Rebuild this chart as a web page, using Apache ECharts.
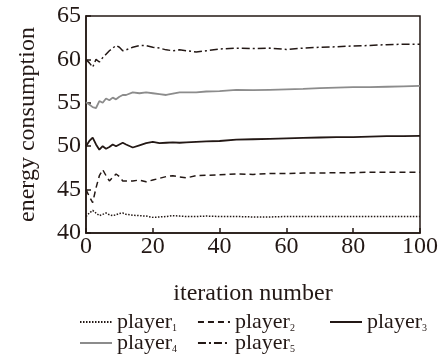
<!DOCTYPE html>
<html>
<head>
<meta charset="utf-8">
<script src="https://cdn.jsdelivr.net/npm/echarts@6/dist/echarts.min.js"></script>
<style>
  html, body { margin: 0; padding: 0; background: #fff; }
  #chart { width: 441px; height: 358px; }
</style>
</head>
<body>
<div id="chart"></div>
<script>
// iteration numbers shared by every player
const iterations = [0, 1, 2, 3, 4, 5, 6, 7, 8, 9, 10, 11, 12, 14, 16, 18, 20, 22, 24, 26, 28, 30,
  33, 36, 40, 45, 50, 55, 60, 65, 70, 75, 80, 85, 90, 95, 100]

const player1 = [41.9, 42.3, 42.6, 42.3, 42.0, 42.15, 42.3, 42.1, 42.0, 42.1, 42.25, 42.3, 42.15, 42.05,
  42.0, 41.95, 41.8, 41.85, 41.9, 42.0, 41.95, 41.9, 41.9, 41.95, 41.9, 41.9, 41.85, 41.85, 41.9, 41.9,
  41.9, 41.9, 41.9, 41.9, 41.9, 41.9, 41.9]
const player2 = [45.0, 44.2, 43.5, 45.2, 46.6, 47.3, 46.6, 46.0, 46.4, 46.8, 46.5, 46.0, 46.0, 46.0,
  46.1, 45.9, 46.1, 46.3, 46.5, 46.6, 46.45, 46.35, 46.6, 46.65, 46.7, 46.8, 46.75, 46.85, 46.85, 46.9,
  46.9, 46.95, 46.95, 47.0, 47.0, 47.0, 47.0]
const player3 = [50.0, 50.6, 51.0, 50.2, 49.6, 50.0, 49.7, 49.9, 50.2, 50.0, 50.2, 50.4, 50.2, 49.85,
  50.1, 50.35, 50.5, 50.35, 50.4, 50.45, 50.4, 50.45, 50.5, 50.55, 50.6, 50.75, 50.8, 50.85, 50.9, 50.95,
  51.0, 51.05, 51.05, 51.1, 51.15, 51.15, 51.2]
const player4 = [55.05, 54.8, 54.5, 54.4, 55.2, 55.0, 55.5, 55.3, 55.6, 55.4, 55.7, 55.9, 55.9, 56.2,
  56.1, 56.2, 56.1, 56.0, 55.9, 56.05, 56.2, 56.2, 56.2, 56.3, 56.35, 56.5, 56.45, 56.5, 56.55, 56.6,
  56.7, 56.75, 56.8, 56.8, 56.85, 56.9, 56.95]
const player5 = [60.0, 59.6, 59.1, 60.0, 59.7, 60.2, 60.6, 61.0, 61.3, 61.6, 61.4, 61.0, 61.1, 61.4,
  61.6, 61.6, 61.4, 61.3, 61.1, 61.0, 61.1, 61.0, 60.85, 61.0, 61.2, 61.3, 61.25, 61.3, 61.15, 61.3,
  61.4, 61.45, 61.55, 61.6, 61.7, 61.75, 61.75]

const playerNames = ['player1', 'player2', 'player3', 'player4', 'player5']
const playerValues = [player1, player2, player3, player4, player5]

const xTicks = [0, 20, 40, 60, 80, 100]
const yTicks = [40, 45, 50, 55, 60, 65]

const ink = '#231815'
const font = 'Liberation Serif'
const lineStyles = [
  { color: ink, width: 1.5, type: [1.5, 1.5] },
  { color: ink, width: 1.5, type: [6, 4] },
  { color: ink, width: 1.8, type: 'solid' },
  { color: '#8c8c8c', width: 1.8, type: 'solid' },
  { color: ink, width: 1.5, type: [8, 3, 2, 3] }
]

const chart = echarts.init(document.getElementById('chart'), null, { renderer: 'canvas' })

const legendText = {
  color: ink,
  fontFamily: font,
  fontSize: 22,
  padding: [0, 0, 0, 0],
  rich: {
    s: { fontFamily: font, fontSize: 10, color: ink, verticalAlign: 'bottom', padding: [10, 0, 0, 0] }
  }
}
const legendFormatter = name => name.replace(/(\d+)$/, '{s|$1}')
// legend rows laid out like a small table
const legendBase = {
  itemWidth: 32, itemHeight: 10, itemGap: 20,
  itemStyle: { opacity: 0 },
  textStyle: legendText, formatter: legendFormatter
}

chart.setOption({
  animation: false,
  backgroundColor: '#fff',
  grid: {
    left: 86, right: 18, top: 16, bottom: 125,
    show: true, borderColor: ink, borderWidth: 1.5
  },
  legend: [
    Object.assign({ data: ['player1', 'player2'], left: 74, top: 306 }, legendBase),
    Object.assign({ data: ['player3'], left: 324, top: 306 }, legendBase),
    Object.assign({ data: ['player4', 'player5'], left: 74, top: 327 }, legendBase)
  ],
  xAxis: {
    type: 'value', min: xTicks[0], max: xTicks[xTicks.length - 1], interval: 20,
    name: 'iteration number', nameLocation: 'middle', nameGap: 49,
    nameTextStyle: { color: ink, fontFamily: font, fontSize: 24 },
    axisLine: { lineStyle: { color: ink, width: 1.5 } },
    axisTick: { inside: true, length: 5, lineStyle: { color: ink, width: 1.5 } },
    axisLabel: { color: ink, fontFamily: font, fontSize: 24, margin: 2 },
    splitLine: { show: false }
  },
  yAxis: {
    type: 'value', min: yTicks[0], max: yTicks[yTicks.length - 1], interval: 5,
    name: 'energy consumption', nameLocation: 'middle', nameGap: 46, nameRotate: 90,
    nameTextStyle: { color: ink, fontFamily: font, fontSize: 24 },
    axisLine: { lineStyle: { color: ink, width: 1.5 } },
    axisTick: { inside: true, length: 5, lineStyle: { color: ink, width: 1.5 } },
    axisLabel: { color: ink, fontFamily: font, fontSize: 24, margin: 5 },
    splitLine: { show: false }
  },
  series: playerNames.map((name, i) => ({
    name,
    type: 'line',
    showSymbol: false,
    symbol: 'none',
    lineStyle: lineStyles[i],
    itemStyle: { color: lineStyles[i].color },
    data: iterations.map((x, k) => [x, playerValues[i][k]])
  }))
})
</script>
</body>
</html>
